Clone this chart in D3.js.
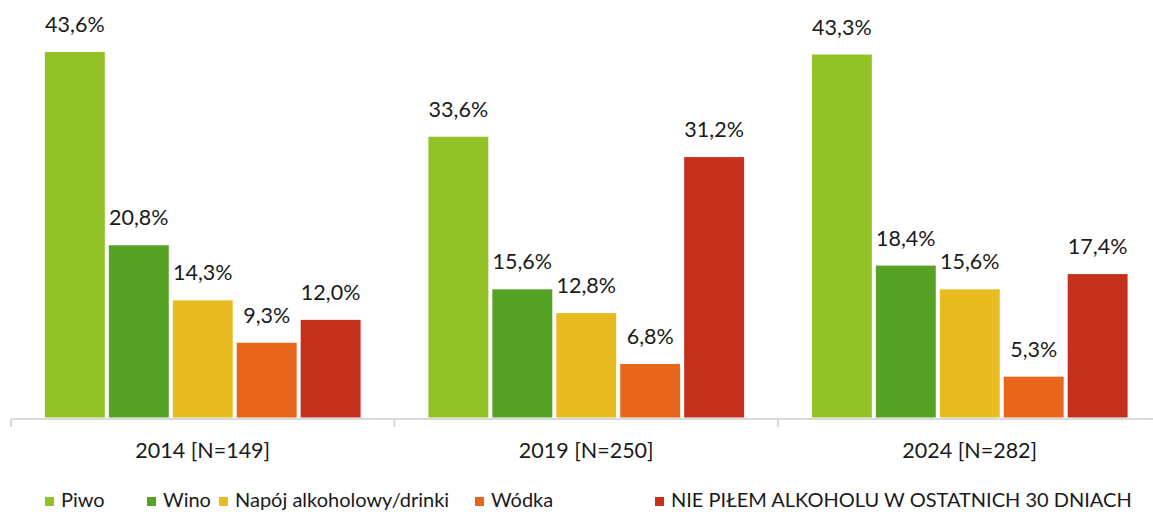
<!DOCTYPE html>
<html>
<head>
<meta charset="utf-8">
<script src="https://cdn.jsdelivr.net/npm/d3@7"></script>
<style>
  body { margin: 0; background: #fff; }
  svg text { font-family: Lato, "Open Sans", sans-serif; fill: #1a1a1a; }
</style>
</head>
<body>
<div id="chart"></div>
<script>
const years = ['2014 [N=149]', '2019 [N=250]', '2024 [N=282]'];
const series = ['Piwo', 'Wino', 'Napój alkoholowy/drinki', 'Wódka', 'NIE PIŁEM ALKOHOLU W OSTATNICH 30 DNIACH'];
const colors = ['#93c228', '#56a225', '#e8bb21', '#e8661b', '#c5301c'];
const values = [
  [43.6, 20.8, 14.3, 9.3, 12.0],
  [33.6, 15.6, 12.8, 6.8, 31.2],
  [43.3, 18.4, 15.6, 5.3, 17.4]
];

const width = 1153;
const height = 512;
const axisY = 419;
const plotBottom = 417.5;
const fontSize = 21.5;
const legendFontSize = 20;

let fmt = v => v.toFixed(1).replace('.', ',') + '%';

let svg = d3.select('#chart').append('svg')
  .attr('width', width)
  .attr('height', height)

let x0 = d3.scaleBand()
  .domain(years)
  .range([11, 11 + 3 * 383.5])

let x1 = d3.scaleBand()
  .domain(series)
  .range([0, x0.bandwidth()])
  .paddingInner(0.0625)
  .paddingOuter(0.53)

let y = d3.scaleLinear()
  .domain([0, 50])
  .range([421.6, 421.6 - 50 * 8.478])

// axis line and ticks
svg.append('line')
  .attr('x1', 11).attr('x2', width)
  .attr('y1', axisY).attr('y2', axisY)
  .attr('stroke', '#d9d9d9')
  .attr('stroke-width', 2)

svg.selectAll('line.tick')
  .data(years.concat(['end']))
  .enter().append('line')
    .classed('tick', true)
    .attr('x1', (d, i) => 11 + i * x0.step())
    .attr('x2', (d, i) => 11 + i * x0.step())
    .attr('y1', axisY)
    .attr('y2', 427)
    .attr('stroke', '#d9d9d9')
    .attr('stroke-width', 2)

let groups = svg.selectAll('g.group')
  .data(years)
  .enter().append('g')
    .classed('group', true)
    .attr('transform', d => `translate(${x0(d)}, 0)`)

groups.selectAll('rect')
  .data((d, i) => values[i].map((v, j) => ({s: series[j], v: v, c: colors[j]})))
  .enter().append('rect')
    .attr('x', d => x1(d.s))
    .attr('width', x1.bandwidth())
    .attr('y', d => y(d.v))
    .attr('height', d => plotBottom - y(d.v))
    .attr('fill', d => d.c)

groups.selectAll('text.value')
  .data((d, i) => values[i].map((v, j) => ({s: series[j], v: v})))
  .enter().append('text')
    .classed('value', true)
    .attr('x', d => x1(d.s) + x1.bandwidth() / 2)
    .attr('y', d => y(d.v) - 20)
    .attr('text-anchor', 'middle')
    .style('font-size', fontSize + 'px')
    .text(d => fmt(d.v))

groups.append('text')
  .attr('x', x0.bandwidth() / 2)
  .attr('y', 458)
  .attr('text-anchor', 'middle')
  .style('font-size', fontSize + 'px')
  .text(d => d)

// legend
const legendX = [45, 147, 219, 475, 655];
let legend = svg.selectAll('g.legend')
  .data(series)
  .enter().append('g')
    .classed('legend', true)
    .attr('transform', (d, i) => `translate(${legendX[i]}, 497)`)

legend.append('rect')
  .attr('width', 9)
  .attr('height', 9)
  .attr('fill', (d, i) => colors[i])

legend.append('text')
  .attr('x', 16)
  .attr('y', 10)
  .style('font-size', legendFontSize + 'px')
  .text(d => d)
</script>
</body>
</html>
